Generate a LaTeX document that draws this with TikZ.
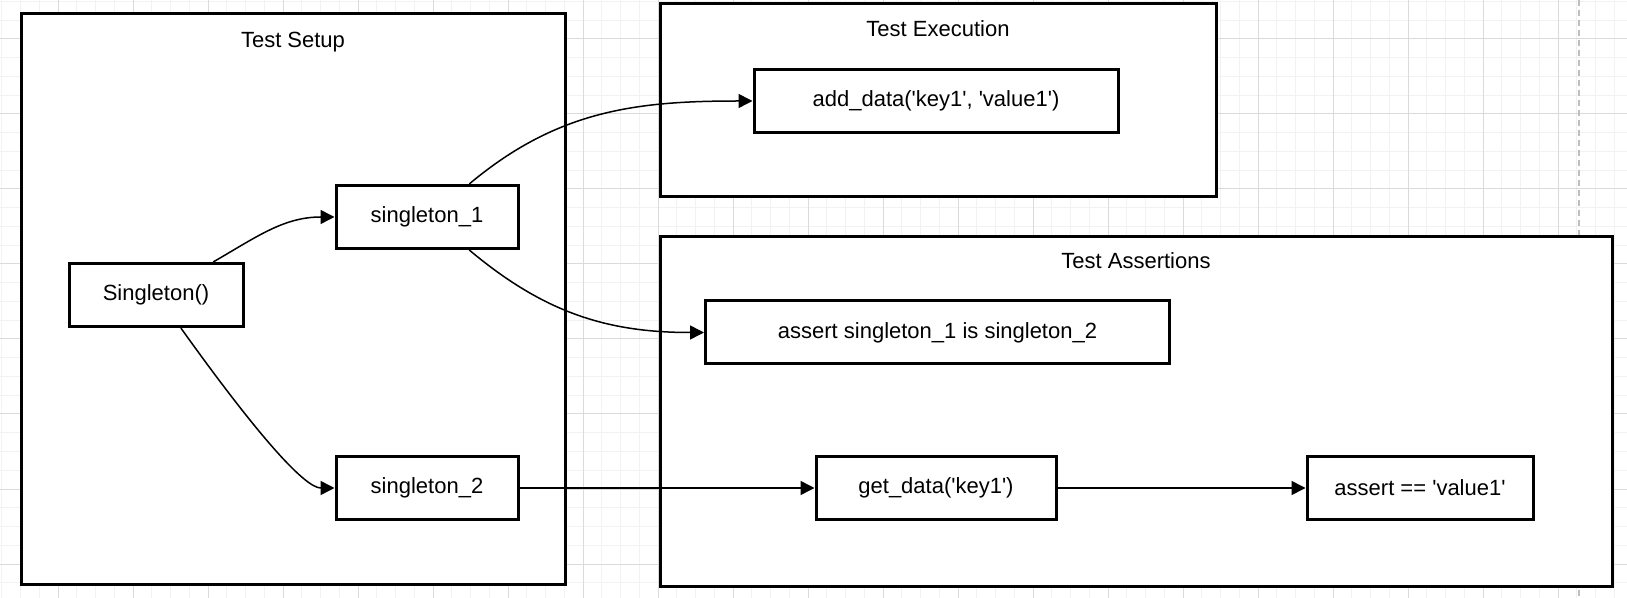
\documentclass[tikz,border=0pt]{standalone}
\usepackage{fontspec}
\setmainfont{Liberation Sans}
\usetikzlibrary{
  calc,
  arrows.meta
}
\definecolor{gridmajor}{RGB}{218,218,218}
\definecolor{gridminor}{RGB}{242,242,242}
\definecolor{pagebreak}{RGB}{190,190,190}

\begin{document}
\begin{tikzpicture}[
  x=0.5pt,
  y=-0.5pt,
  group/.style={
    draw,
    rectangle,
    fill=white,
    line width=1.5pt,
    inner sep=0pt
  },
  title/.style={
    draw=none,
    fill=none,
    inner sep=0pt,
    font=\fontsize{11}{13}\selectfont
  },
  box/.style={
    draw,
    rectangle,
    fill=white,
    line width=1.5pt,
    minimum height=31.5pt,
    inner sep=0pt,
    font=\fontsize{11}{13}\selectfont
  },
  flow/.style={
    line width=0.75pt,
    -{Triangle[length=7pt,width=7pt]}
  },
  >=latex
]

\useasboundingbox (0,0) rectangle (1627,598);

% Grid
\fill[white] (0,0) rectangle (1627,598);
\foreach \k in {-4,...,83}
  \draw[gridminor,line width=0.5pt] ({58+18.75*\k},0) -- ({58+18.75*\k},598);
\foreach \k in {-3,...,29}
  \draw[gridminor,line width=0.5pt] (0,{39+18.75*\k}) -- (1627,{39+18.75*\k});
\foreach \k in {-1,...,20}
  \draw[gridmajor,line width=0.5pt] ({58+75*\k},0) -- ({58+75*\k},598);
\foreach \k in {0,...,7}
  \draw[gridmajor,line width=0.5pt] (0,{39+75*\k}) -- (1627,{39+75*\k});
\draw[pagebreak,line width=0.6pt,dash pattern=on 3pt off 2pt] (1579,0) -- (1579,598);

% Groups
\node[group, minimum width=272pt, minimum height=285pt] (setup) at (293,299) {};
\node[group, minimum width=278pt, minimum height=96.5pt] (execution) at (938,100.5) {};
\node[group, minimum width=476pt, minimum height=174.5pt] (assertions) at (1136,411.5) {};

\node[title] (setuptitle) at ($(setup.north)+(0,30)$) {Test Setup};
\node[title] (executiontitle) at ($(execution.north)+(0,26)$) {Test Execution};
\node[title] (assertionstitle) at ($(assertions.north)+(0,25)$) {Test Assertions};

% Nodes
\node[box, minimum width=87pt] (init) at (156,295) {Singleton()};
\node[box, minimum width=91pt] (single1) at (427,217) {singleton\_1};
\node[box, minimum width=91pt] (single2) at (427,488) {singleton\_2};
\node[box, minimum width=182pt] (adddata) at (936,101)
  {add\_data(\textquotesingle key1\textquotesingle, \textquotesingle value1\textquotesingle)};
\node[box, minimum width=232pt] (sameinst) at (937.5,332.5) {assert singleton\_1 is singleton\_2};
\node[box, minimum width=120pt] (getdata) at (936,488)
  {get\_data(\textquotesingle key1\textquotesingle)};
\node[box, minimum width=113pt] (checkval) at (1420,488)
  {assert == \textquotesingle value1\textquotesingle};

% Arrows
\draw[flow] (init.30) to[out=30,in=180] (single1.west);
\draw[flow] (init.-53) .. controls +(75,105) and +(-30,0) .. (single2.west);
\draw[flow] (single1.38) to[out=40,in=180] (adddata.west);
\draw[flow] (single1.-38) to[out=-40,in=180] (sameinst.west);
\draw[flow] (single2) -- (getdata);
\draw[flow] (getdata) -- (checkval);

\end{tikzpicture}
\end{document}
